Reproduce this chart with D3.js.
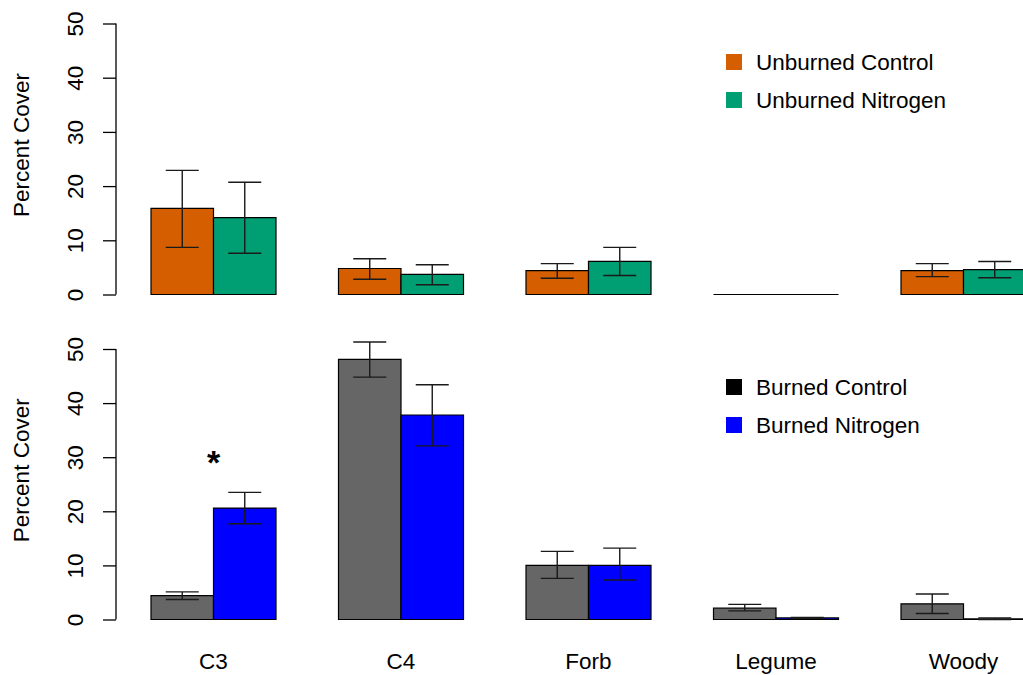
<!DOCTYPE html>
<html>
<head>
<meta charset="utf-8">
<script src="https://cdn.jsdelivr.net/npm/d3@7"></script>
<style>
  body { margin: 0; background: #fff; }
  svg { font-family: "Liberation Sans", Arial, sans-serif; display: block; }
</style>
</head>
<body>
<svg width="1023" height="675"></svg>
<script>
  // data
  const categories = ["C3", "C4", "Forb", "Legume", "Woody"];

  const unburnedSeries = ["Unburned Control", "Unburned Nitrogen"];
  const unburnedControl = [15.9, 4.8, 4.4, 0, 4.4];
  const unburnedControlLo = [8.7, 2.8, 3.0, 0, 3.3];
  const unburnedControlHi = [22.9, 6.6, 5.7, 0, 5.7];
  const unburnedNitrogen = [14.2, 3.7, 6.1, 0, 4.6];
  const unburnedNitrogenLo = [7.6, 1.8, 3.5, 0, 3.1];
  const unburnedNitrogenHi = [20.7, 5.5, 8.7, 0, 6.1];

  const burnedSeries = ["Burned Control", "Burned Nitrogen"];
  const burnedControl = [4.4, 48.1, 10.0, 2.1, 2.9];
  const burnedControlLo = [3.7, 44.8, 7.6, 1.6, 1.1];
  const burnedControlHi = [5.1, 51.3, 12.6, 2.8, 4.7];
  const burnedNitrogen = [20.6, 37.8, 10.0, 0.3, 0.1];
  const burnedNitrogenLo = [17.7, 32.1, 7.3, 0.2, 0.0];
  const burnedNitrogenHi = [23.5, 43.4, 13.2, 0.4, 0.3];

  const yTicks = [0, 10, 20, 30, 40, 50];
  const starMarks = [{ cat: "C3", value: 30 }];

  const FS = 22.5;
  const svg = d3.select("svg");

  const x0 = d3.scaleBand().domain(categories).range([151, 1026]).paddingInner(1 / 3).paddingOuter(0);

  function panel(opts) {
    const { top, bottom, series, vals, los, his, fills, legendFills, legendY, stars } = opts;
    const y = d3.scaleLinear().domain([0, 50]).range([bottom, top]);
    const x1 = d3.scaleBand().domain(series).range([0, x0.bandwidth()]);
    const g = svg.append("g");

    // axis
    const ax = g.append("g").attr("transform", "translate(116,0)")
      .call(d3.axisLeft(y).tickValues(yTicks).tickSize(13).tickPadding(0).tickFormat(d3.format("d")));
    ax.attr("font-size", null).attr("font-family", null);
    ax.select(".domain").attr("stroke", "#000").attr("stroke-width", 1.3).attr("d", `M0,${y(0)}V${y(50)}`);
    ax.selectAll(".tick line").attr("stroke", "#000").attr("stroke-width", 1.3);
    ax.selectAll(".tick text")
      .attr("fill", "#000")
      .style("font-size", FS + "px")
      .attr("text-anchor", "middle")
      .attr("transform", "translate(-41,0) rotate(-90)")
      .attr("x", 0).attr("dy", "0.36em");

    g.append("text")
      .attr("transform", `translate(21,${(top + bottom) / 2 - 14}) rotate(-90)`)
      .attr("text-anchor", "middle").attr("dy", "0.36em")
      .style("font-size", FS + "px")
      .text("Percent Cover");

    const rows = [];
    categories.forEach((c, i) => {
      series.forEach((s, j) => {
        rows.push({ cat: c, s: s, v: vals[j][i], lo: los[j][i], hi: his[j][i], fill: fills[j] });
      });
    });

    const bx = d => x0(d.cat) + x1(d.s);
    g.selectAll("path.bar").data(rows).join("path")
      .attr("class", "bar")
      .attr("d", d => `M${bx(d)},${y(0)}V${y(d.v)}H${bx(d) + x1.bandwidth()}V${y(0)}Z`)
      .attr("fill", d => d.fill)
      .attr("stroke", "#000")
      .attr("stroke-width", 1.2);

    const eb = g.selectAll("g.err").data(rows.filter(d => d.hi > d.lo)).join("g")
      .attr("class", "err")
      .attr("stroke", "#1a1a1a").attr("stroke-width", 1.4);
    const cx = d => bx(d) + x1.bandwidth() / 2;
    eb.append("line").attr("x1", cx).attr("x2", cx).attr("y1", d => y(d.lo)).attr("y2", d => y(d.hi));
    eb.append("line").attr("x1", d => cx(d) - 16.5).attr("x2", d => cx(d) + 16.5).attr("y1", d => y(d.hi)).attr("y2", d => y(d.hi));
    eb.append("line").attr("x1", d => cx(d) - 16.5).attr("x2", d => cx(d) + 16.5).attr("y1", d => y(d.lo)).attr("y2", d => y(d.lo));

    // significance
    g.selectAll("text.star").data(stars).join("text")
      .attr("class", "star")
      .attr("x", d => x0(d.cat) + x0.bandwidth() / 2)
      .attr("y", d => y(d.value))
      .attr("text-anchor", "middle")
      .attr("dy", "0.5em")
      .style("font-size", "34px")
      .attr("font-weight", "bold")
      .text("*");

    // legend
    const lg = g.selectAll("g.leg").data(series).join("g")
      .attr("class", "leg")
      .attr("transform", (d, i) => `translate(726,${legendY + i * 38})`);
    lg.append("rect").attr("x", 0).attr("y", -8).attr("width", 16).attr("height", 16)
      .attr("fill", (d, i) => legendFills[i]);
    lg.append("text").attr("x", 30).attr("dy", "0.36em").style("font-size", FS + "px").text(d => d);

    return y;
  }

  panel({
    top: 23.5, bottom: 294.5,
    series: unburnedSeries,
    vals: [unburnedControl, unburnedNitrogen],
    los: [unburnedControlLo, unburnedNitrogenLo],
    his: [unburnedControlHi, unburnedNitrogenHi],
    fills: ["#D55E00", "#009E73"],
    legendFills: ["#D55E00", "#009E73"],
    legendY: 62,
    stars: []
  });

  panel({
    top: 349, bottom: 619.5,
    series: burnedSeries,
    vals: [burnedControl, burnedNitrogen],
    los: [burnedControlLo, burnedNitrogenLo],
    his: [burnedControlHi, burnedNitrogenHi],
    fills: ["#666666", "#0000FF"],
    legendFills: ["#000000", "#0000FF"],
    legendY: 387,
    stars: starMarks
  });

  // category labels
  svg.selectAll("text.cat").data(categories).join("text")
    .attr("class", "cat")
    .attr("x", d => x0(d) + x0.bandwidth() / 2)
    .attr("y", 661)
    .attr("dy", "0.36em")
    .attr("text-anchor", "middle")
    .style("font-size", FS + "px")
    .text(d => d);
</script>
</body>
</html>
